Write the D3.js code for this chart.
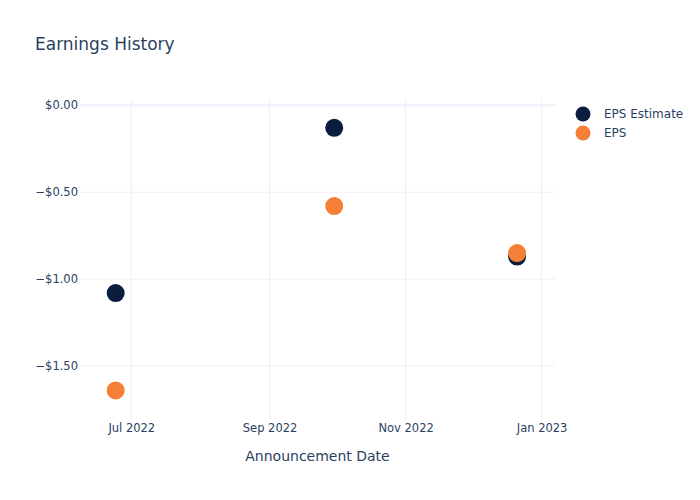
<!DOCTYPE html>
<html><head><meta charset="utf-8">
<script src="https://cdn.jsdelivr.net/npm/d3@7"></script>
<style>body{margin:0;background:#fff;} text{font-family:"DejaVu Sans",Verdana,sans-serif;}</style>
</head><body>
<svg id="c" width="700" height="500"></svg>
<script>
const dates = ["2022-06-24", "2022-09-30", "2022-12-21"];
const epsEstimate = [-1.08, -0.13, -0.87];
const eps = [-1.64, -0.58, -0.85];
const yTicks = [0, -0.5, -1, -1.5];
const xTicks = ["2022-07-01", "2022-09-01", "2022-11-01", "2023-01-01"];
const seriesNames = ["EPS Estimate", "EPS"];
const colors = ["#0b1d3e", "#f67f37"];

const parse = d3.timeParse("%Y-%m-%d");
const svg = d3.select("#c");
const L = 80, R = 555, T = 100, B = 420;
const x = d3.scaleTime().domain([parse("2022-06-08"), parse("2023-01-07")]).range([L, R]);
const y = d3.scaleLinear().domain([-1.81, 0.03]).range([B, T]);
const textColor = "#2a3f5f", grid = "#ebf0f8";
const ff = '"DejaVu Sans",Verdana,sans-serif';

// gridlines
svg.append("g").selectAll("line").data(xTicks).join("line")
  .attr("x1", d => x(parse(d))).attr("x2", d => x(parse(d)))
  .attr("y1", T).attr("y2", B).attr("stroke", grid).attr("stroke-width", 1);
svg.append("g").selectAll("line").data(yTicks).join("line")
  .attr("x1", L).attr("x2", R).attr("y1", d => y(d)).attr("y2", d => y(d))
  .attr("stroke", grid).attr("stroke-width", d => d === 0 ? 2 : 1);

// axes via d3 axis
const fmt = d => (d < 0 ? "\u2212$" : "$") + Math.abs(d).toFixed(2);
const yAxis = svg.append("g").attr("transform", `translate(${L},0)`)
  .call(d3.axisLeft(y).tickValues(yTicks).tickFormat(fmt).tickSize(0).tickPadding(2));
yAxis.select(".domain").remove();
yAxis.selectAll("text").attr("fill", textColor).style("font-size", "11.5px").attr("font-family", ff);

const xAxis = svg.append("g").attr("transform", `translate(0,${B})`)
  .call(d3.axisBottom(x).tickValues(xTicks.map(parse)).tickFormat(d3.timeFormat("%b %Y")).tickSize(0).tickPadding(4));
xAxis.select(".domain").remove();
xAxis.selectAll("text").attr("fill", textColor).style("font-size", "11.5px").attr("font-family", ff);

// points
const seriesData = [epsEstimate, eps];
seriesData.forEach((vals, i) => {
  svg.append("g").selectAll("circle").data(vals).join("circle")
    .attr("cx", (d, j) => x(parse(dates[j]))).attr("cy", d => y(d))
    .attr("r", 9).attr("fill", colors[i]);
});

// title
svg.append("text").attr("x", 35).attr("y", 50).attr("fill", textColor)
  .style("font-size", "17px").text("Earnings History");
// x axis title
svg.append("text").attr("x", (L + R) / 2).attr("y", 461).attr("text-anchor", "middle")
  .attr("fill", textColor).style("font-size", "14px").text("Announcement Date");

// legend
const lg = svg.append("g");
seriesNames.forEach((n, i) => {
  lg.append("circle").attr("cx", 583).attr("cy", 114 + i * 19).attr("r", 7.5).attr("fill", colors[i]);
  lg.append("text").attr("x", 604).attr("y", 114 + i * 19 + 4).attr("fill", textColor)
    .style("font-size", "12px").text(n);
});
</script>
</body></html>
